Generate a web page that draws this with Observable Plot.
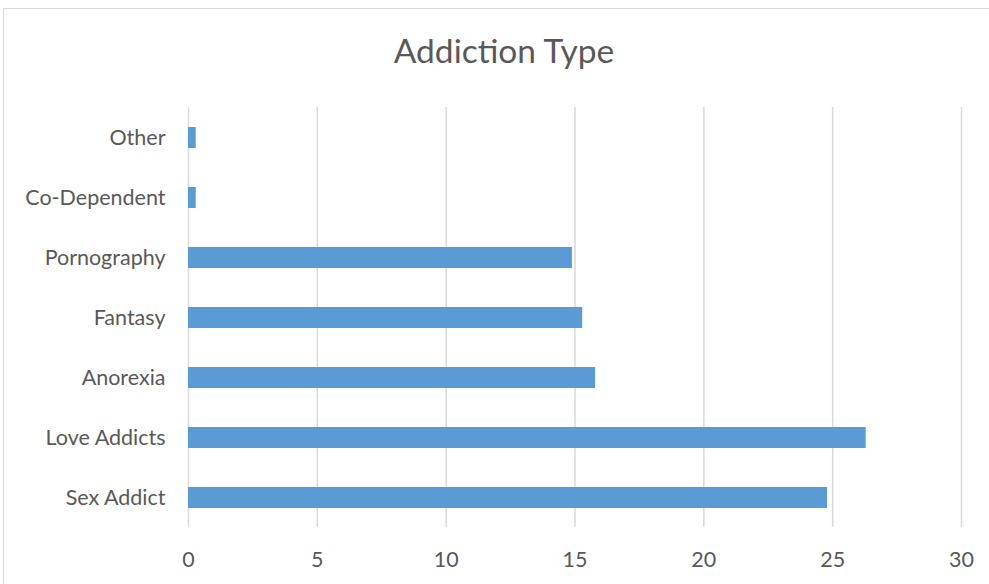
<!DOCTYPE html>
<html>
<head>
<meta charset="utf-8">
<script src="https://cdn.jsdelivr.net/npm/d3@7"></script>
<script src="https://cdn.jsdelivr.net/npm/@observablehq/plot@0.6"></script>
<style>
  html, body { margin: 0; padding: 0; background: #fff; }
  #wrap { position: relative; width: 989px; height: 584px; overflow: hidden; font-family: Lato, "Open Sans", sans-serif; }
  #frame { position: absolute; left: 3px; top: 8px; width: 1000px; height: 600px; border-left: 1px solid #d9d9d9; border-top: 1px solid #d9d9d9; }
  #title { position: absolute; left: 0; width: 1008px; top: 30px; text-align: center; font-size: 33.5px; color: #595959; line-height: normal; }
  #chart { position: absolute; left: 0; top: 0; }
</style>
</head>
<body>
<div id="wrap">
  <div id="frame"></div>
  <div id="title">Addiction Type</div>
  <div id="chart"></div>
</div>
<script>
const categories = ["Other", "Co-Dependent", "Pornography", "Fantasy", "Anorexia", "Love Addicts", "Sex Addict"];
const values = [0.3, 0.3, 14.9, 15.3, 15.8, 26.3, 24.8];
const xTicks = [0, 5, 10, 15, 20, 25, 30];

const data = categories.map((c, i) => ({category: c, value: values[i]}));

const chart = Plot.plot({
  width: 989,
  height: 584,
  marginTop: 107,
  marginBottom: 57,
  marginLeft: 188,
  marginRight: 28,
  style: {fontFamily: "Lato, 'Open Sans', sans-serif", fontSize: "21.5px", color: "#595959", background: "transparent"},
  x: {domain: [0, 30], ticks: xTicks, label: null},
  y: {domain: categories, paddingInner: 0.65, paddingOuter: 0.325, label: null},
  marks: [
    Plot.gridX(xTicks, {stroke: "#d9d9d9", strokeOpacity: 1, strokeWidth: 1.5}),
    Plot.barX(data, {x: "value", y: "category", fill: "#5b9bd5"}),
    Plot.axisX({ticks: xTicks, tickSize: 0, tickPadding: 24, fontSize: 21.5, fill: "#595959", label: null}),
    Plot.axisY({tickSize: 0, tickPadding: 23, fontSize: 21.5, fill: "#595959", label: null})
  ]
});
document.getElementById("chart").appendChild(chart);
</script>
</body>
</html>
